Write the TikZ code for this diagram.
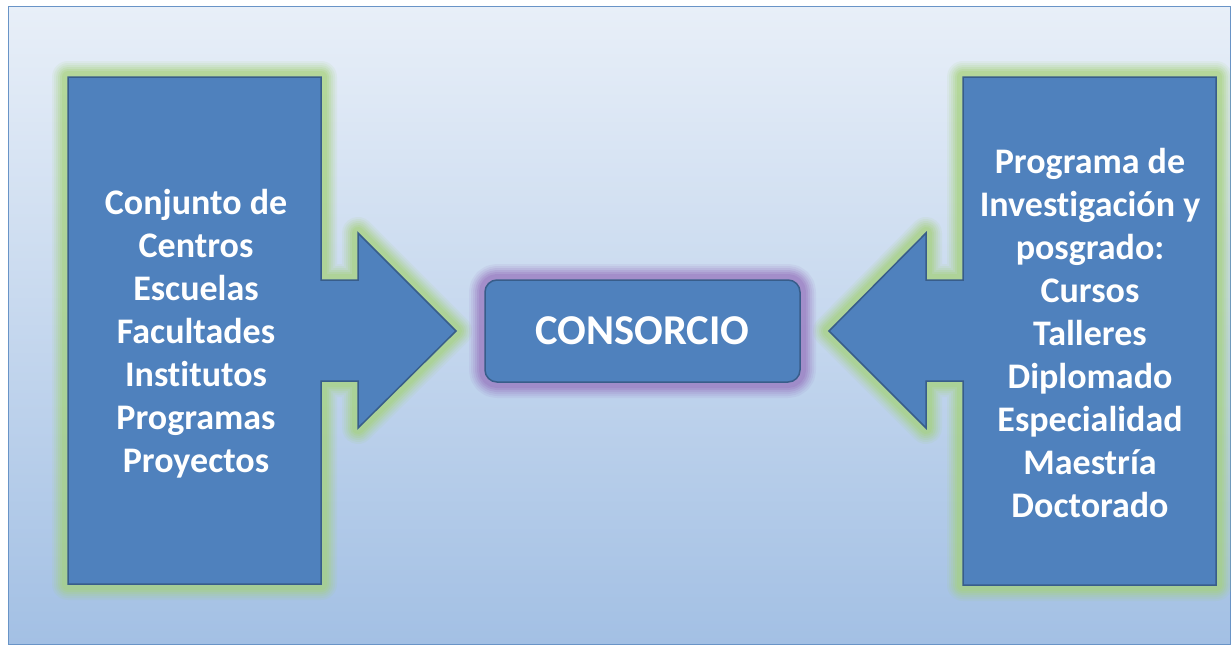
\documentclass[tikz,border=0pt]{standalone}
\usepackage{fontspec}
\setmainfont{Carlito}[Ligatures=NoCommon]
\usetikzlibrary{positioning}

\definecolor{boxblue}{RGB}{79,129,189}
\definecolor{boxedge}{RGB}{56,93,138}
\definecolor{glowgreen}{RGB}{165,210,120}
\definecolor{glowpurple}{RGB}{150,115,190}
\definecolor{bgtop}{RGB}{232,239,248}
\definecolor{bgbot}{RGB}{163,192,228}

\tikzset{
  glow/.style={preaction={draw=#1,opacity=.10,line width=32pt,line join=round},
               preaction={draw=#1,opacity=.12,line width=28pt,line join=round},
               preaction={draw=#1,opacity=.15,line width=24pt,line join=round},
               preaction={draw=#1,opacity=.2,line width=20pt,line join=round},
               preaction={draw=#1,opacity=.25,line width=16pt,line join=round},
               preaction={draw=#1,opacity=.3,line width=12pt,line join=round}},
  arrowbox/.style={fill=boxblue,draw=boxedge,line width=1.5pt,glow=glowgreen},
  sidetext/.style={text=white,align=center,font=\fontsize{36}{43}\selectfont\bfseries},
  mainbox/.style={rectangle,rounded corners=12pt,fill=boxblue,draw=boxedge,line width=1.5pt,
    minimum width=315pt,minimum height=102pt,text=white,font=\fontsize{42.5}{48}\selectfont\bfseries,
    glow=glowpurple}
}

\begin{document}
\begin{tikzpicture}[x=1pt,y=-1pt]
  \useasboundingbox (0,0) rectangle (1231,645);
  % fondo
  \shade[top color=bgtop,bottom color=bgbot] (8,6) rectangle (1230,644);
  \draw[boxblue!85,line width=1pt] (8,6) rectangle (1230,644);
  % flecha izquierda
  \draw[arrowbox] (68,77) -- (321,77) -- (321,280) -- (358,280) -- (358,233) -- (456,331)
    -- (358,428) -- (358,381) -- (321,381) -- (321,584) -- (68,584) -- cycle;
  % flecha derecha
  \draw[arrowbox] (1216,77) -- (963,77) -- (963,280) -- (926,280) -- (926,233) -- (829,331)
    -- (926,428) -- (926,381) -- (963,381) -- (963,585) -- (1216,585) -- cycle;
  \node[mainbox] (consorcio) at (642.5,331) {CONSORCIO};
  \node[sidetext] (centros) at (196,334) {Conjunto de\\Centros\\Escuelas\\Facultades\\Institutos\\Programas\\Proyectos};
  \node[sidetext] (programa) at (1090,333) {Programa de\\Investigación y\\posgrado:\\Cursos\\Talleres\\Diplomado\\Especialidad\\Maestría\\Doctorado};
\end{tikzpicture}
\end{document}
